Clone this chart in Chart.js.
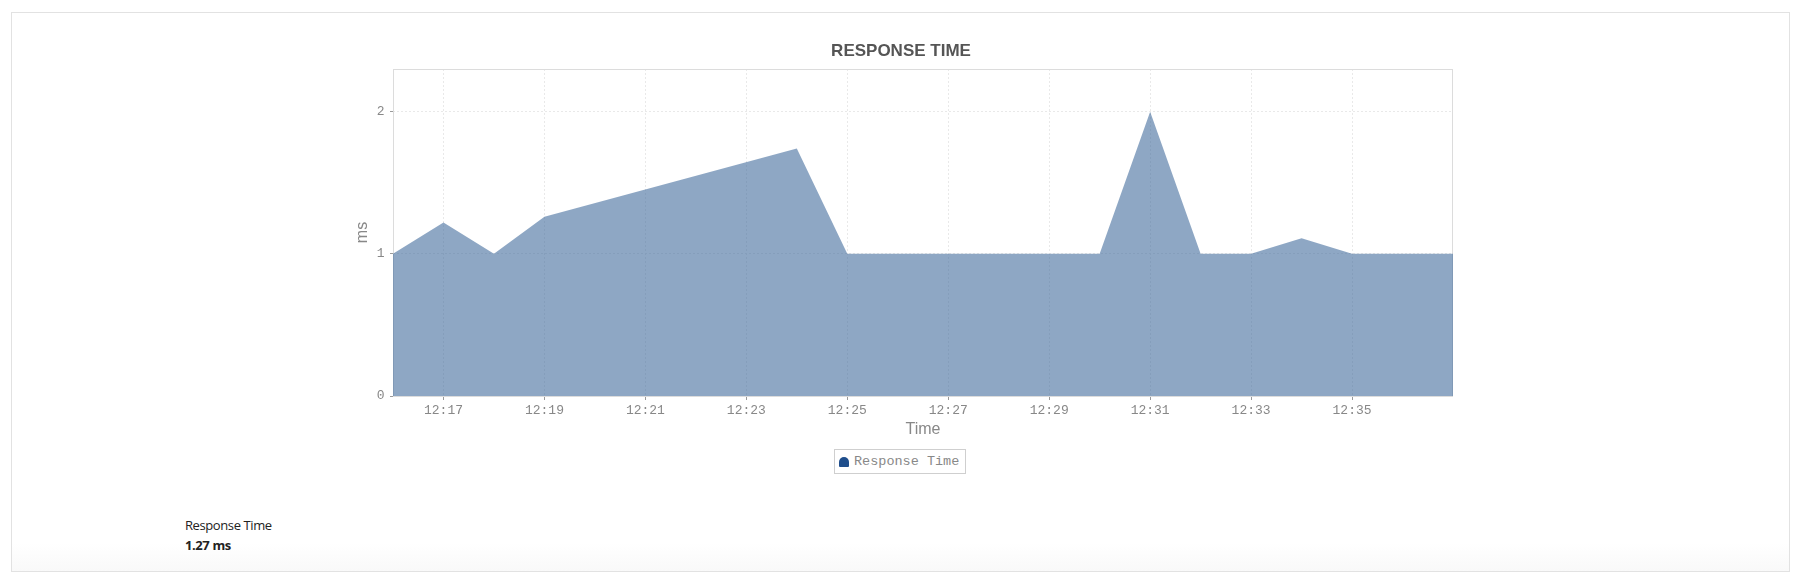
<!DOCTYPE html>
<html>
<head>
<meta charset="utf-8">
<script src="https://cdn.jsdelivr.net/npm/chart.js@4"></script>
<style>
  html, body { margin: 0; padding: 0; background: #fff; }
  body { width: 1803px; height: 580px; position: relative; overflow: hidden; }
  .panel {
    position: absolute; left: 11px; top: 12px; width: 1779px; height: 560px;
    box-sizing: border-box; border: 1px solid #e2e2e2;
    background: linear-gradient(to bottom, #fff 95%, #f9f9f9 100%);
  }
  #chartWrap { position: absolute; left: 0; top: 0; width: 1803px; height: 446px; }
  .legend {
    position: absolute; left: 834px; top: 449px; width: 132px; height: 25px;
    box-sizing: border-box; border: 1px solid #cfcfcf; background: #fff;
    font: 13.5px "Liberation Mono", monospace; color: #888; line-height: 23px;
    white-space: nowrap;
  }
  .legend .icon {
    position: absolute; left: 4px; top: 7px; width: 10px; height: 10px;
    background: #1f4e8c; border-radius: 5px 5px 1px 1px;
  }
  .legend span.txt { position: absolute; left: 19px; top: 0; }
  .summary {
    position: absolute; left: 185px; top: 515px;
    font-family: "Open Sans", sans-serif; font-size: 13px; color: #222;
    letter-spacing: -0.4px; line-height: 20px;
  }
  .summary b { font-weight: 700; }
</style>
</head>
<body>
<div class="panel"></div>
<div id="chartWrap"><canvas id="responseChart" width="1803" height="446"></canvas></div>
<div class="legend"><div class="icon"></div><span class="txt">Response Time</span></div>
<div class="summary">Response Time<br><b>1.27 ms</b></div>

<script>
const timeLabels = ["12:16", "12:17", "12:18", "12:19", "12:20", "12:21", "12:22", "12:23",
  "12:24", "12:25", "12:26", "12:27", "12:28", "12:29", "12:30", "12:31", "12:32", "12:33",
  "12:34", "12:35", "12:36", "12:37"];
const responseMs = [1.0, 1.22, 1.0, 1.26, null, null, null, null,
  1.74, 1.0, 1.0, 1.0, 1.0, 1.0, 1.0, 2.0, 1.0, 1.0,
  1.11, 1.0, 1.0, 1.0];
const yTicks = [0, 1, 2];
const yMax = 2.3;

const MONO = "'Liberation Mono', monospace";
const SANS = "'Liberation Sans', Arial, sans-serif";

// only every other minute gets a label / grid line (last one sits on the border)
const isShown = i => i % 2 === 1 && i < timeLabels.length - 1;

const plotBorder = {
  id: "plotBorder",
  beforeDatasetsDraw(chart) {
    const { ctx, chartArea: a } = chart;
    ctx.save();
    ctx.strokeStyle = "#dcdcdc";
    ctx.lineWidth = 1;
    ctx.strokeRect(a.left + 0.5, a.top + 0.5, a.right - a.left - 1, a.bottom - a.top);
    ctx.restore();
  }
};

const ctx = document.getElementById("responseChart").getContext("2d");
new Chart(ctx, {
  type: "line",
  data: {
    labels: timeLabels,
    datasets: [{
      label: "Response Time",
      data: responseMs,
      fill: "origin",
      backgroundColor: "rgba(67, 108, 157, 0.6)",
      borderColor: "rgba(0,0,0,0)",
      borderWidth: 0,
      pointRadius: 0,
      tension: 0,
      spanGaps: true
    }]
  },
  options: {
    responsive: false,
    animation: false,
    layout: { padding: { left: 349, right: 350, top: 0, bottom: 0 } },
    plugins: {
      legend: { display: false },
      tooltip: { enabled: false },
      title: {
        display: true,
        text: "RESPONSE TIME",
        color: "#555",
        font: { family: SANS, size: 17, weight: "bold" },
        padding: { top: 41, bottom: 7.6 }
      }
    },
    scales: {
      x: {
        type: "category",
        offset: false,
        afterFit: s => { s.height = 50; },
        border: { display: false, dash: [2, 2] },
        grid: {
          color: c => isShown(c.index) ? "#e9e9e9" : "rgba(0,0,0,0)",
          tickColor: c => isShown(c.index) ? "#9a9a9a" : "rgba(0,0,0,0)",
          tickBorderDash: [],
          tickLength: 4
        },
        ticks: {
          autoSkip: false,
          maxRotation: 0,
          padding: 3.2,
          color: "#888",
          font: { family: MONO, size: 13 },
          callback: (v, i) => isShown(i) ? timeLabels[i] : ""
        },
        title: {
          display: true,
          text: "Time",
          color: "#888",
          font: { family: SANS, size: 16 },
          padding: { top: 0, bottom: 6.4 }
        }
      },
      y: {
        min: 0,
        max: yMax,
        afterFit: s => { s.width = 44; },
        afterBuildTicks: s => { s.ticks = yTicks.map(v => ({ value: v })); },
        border: { display: false, dash: [2, 2] },
        grid: {
          color: "#e9e9e9",
          tickColor: "#9a9a9a",
          tickBorderDash: [],
          tickLength: 3
        },
        ticks: {
          padding: 5.5,
          color: "#888",
          font: { family: MONO, size: 13 }
        },
        title: {
          display: true,
          text: "ms",
          color: "#888",
          font: { family: SANS, size: 16 },
          padding: { top: 4.4, bottom: 0 }
        }
      }
    }
  },
  plugins: [plotBorder]
});
</script>
</body>
</html>
